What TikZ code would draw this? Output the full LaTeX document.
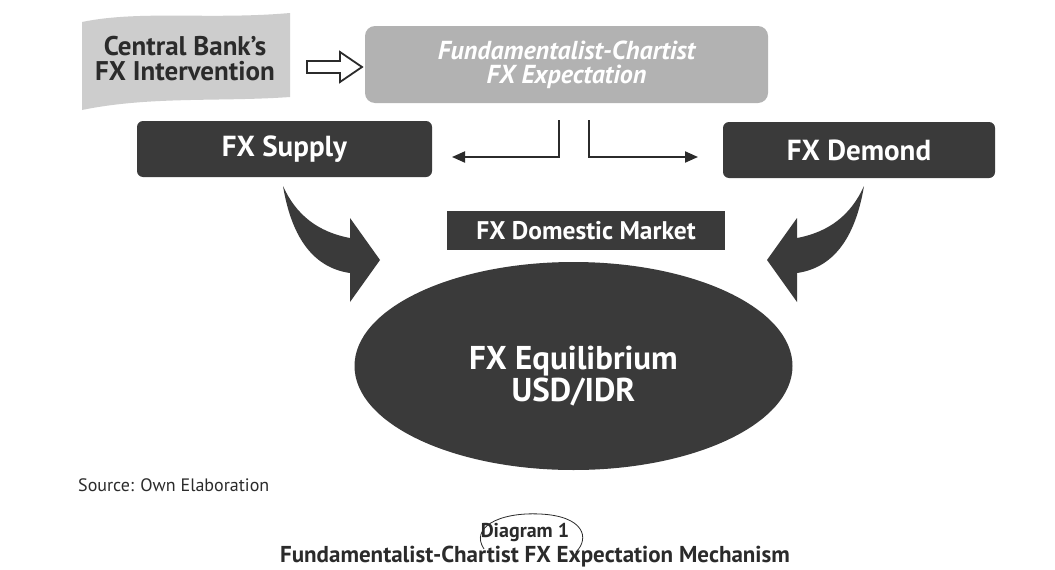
\documentclass[tikz,border=0pt]{standalone}
\usepackage{fontspec}
\setmainfont{PT Sans}
\usetikzlibrary{arrows.meta,shapes.geometric}
\definecolor{boxdark}{HTML}{3A3A3A}
\definecolor{boxlight}{HTML}{B2B2B2}
\definecolor{bannergray}{HTML}{CDCDCD}
\definecolor{inktext}{HTML}{2B2B2B}
\tikzset{
  darkbox/.style={fill=boxdark, rounded corners=6pt, text=white, inner sep=0pt,
    font=\bfseries\fontsize{29}{30}\selectfont, minimum height=56pt},
  blockarrow/.style={fill=boxdark, draw=none},
  elbow/.style={draw=inktext, line width=2pt, -{Triangle[length=13pt,width=11pt]}},
  hollow/.style={draw=inktext, line width=1.8pt, fill=white, line join=miter},
  captxt/.style={text=inktext, inner sep=0pt},
}
\begin{document}
\begin{tikzpicture}[x=1pt,y=-1pt]
\useasboundingbox (0,0) rectangle (1055,570);
\fill[white] (0,0) rectangle (1055,570);

% Central bank banner
\fill[bannergray] (82,22) .. controls (140,10) and (210,20) .. (290,13)
  -- (290,97) .. controls (220,102) and (150,96) .. (82,110) -- cycle;
\node[text=inktext, align=center, inner sep=0pt,
  font=\bfseries\fontsize{27}{25}\selectfont] (cb) at (185,59)
  {Central Bank's\\FX Intervention};

% hollow arrow
\draw[hollow] (307,61) -- (340,61) -- (340,52) -- (362,67) -- (340,82)
  -- (340,73) -- (307,73) -- cycle;

% expectation box
\node[fill=boxlight, rounded corners=10pt, minimum width=403pt, minimum height=77pt,
  inner sep=0pt, text=white, align=center,
  font=\bfseries\itshape\fontsize{26}{24}\selectfont] (expect) at (566.5,64.5)
  {Fundamentalist-Chartist\\FX Expectation};

% supply / demand
\node[darkbox, minimum width=295pt] (supply) at (284.5,149) {FX Supply};
\node[darkbox, minimum width=272pt] (demand) at (859,150) {FX Demond};

% elbow arrows
\coordinate (la) at (559,120);
\coordinate (lb) at (452,157);
\coordinate (ra) at (589,120);
\coordinate (rb) at (698,157);
\draw[elbow] (la) |- (lb);
\draw[elbow] (ra) |- (rb);

% domestic market
\node[fill=boxdark, text=white, inner sep=0pt, minimum width=278pt, minimum height=39pt,
  font=\bfseries\fontsize{25.5}{26}\selectfont] (market) at (586,230.5) {FX Domestic Market};

% curved block arrows
\fill[blockarrow] (283,186) .. controls (292,240) and (315,268) .. (350,273)
  -- (350,302) -- (380,260) -- (350,218) -- (350,238)
  .. controls (318,232) and (296,215) .. (283,186) -- cycle;
\fill[blockarrow] (864,186) .. controls (855,240) and (832,268) .. (797,273)
  -- (797,302) -- (767,260) -- (797,218) -- (797,238)
  .. controls (829,232) and (851,215) .. (864,186) -- cycle;

% equilibrium ellipse
\node[ellipse, fill=boxdark, minimum width=438pt, minimum height=208pt, inner sep=0pt] (equil) at (573.5,366) {};
\node[text=white, align=center, inner sep=0pt,
  font=\bfseries\fontsize{33}{30}\selectfont] (equiltxt) at (573.5,376)
  {FX Equilibrium\\USD/IDR};

% source
\node[anchor=west, text=inktext, inner sep=0pt, font=\fontsize{18}{19}\selectfont] (src) at (78,485)
  {Source: Own Elaboration};

% caption
\node[captxt, font=\bfseries\fontsize{20}{21}\selectfont] (diag) at (525,532) {Diagram 1};
\node[captxt, font=\bfseries\fontsize{23}{24}\selectfont] (capt) at (535,557) {Fundamentalist-Chartist FX Expectation Mechanism};
\draw[inktext, line width=0.8pt] (484,549) .. controls (470,528) and (498,512) .. (540,514)
  .. controls (584,516) and (590,538) .. (576,552);
\end{tikzpicture}
\end{document}
